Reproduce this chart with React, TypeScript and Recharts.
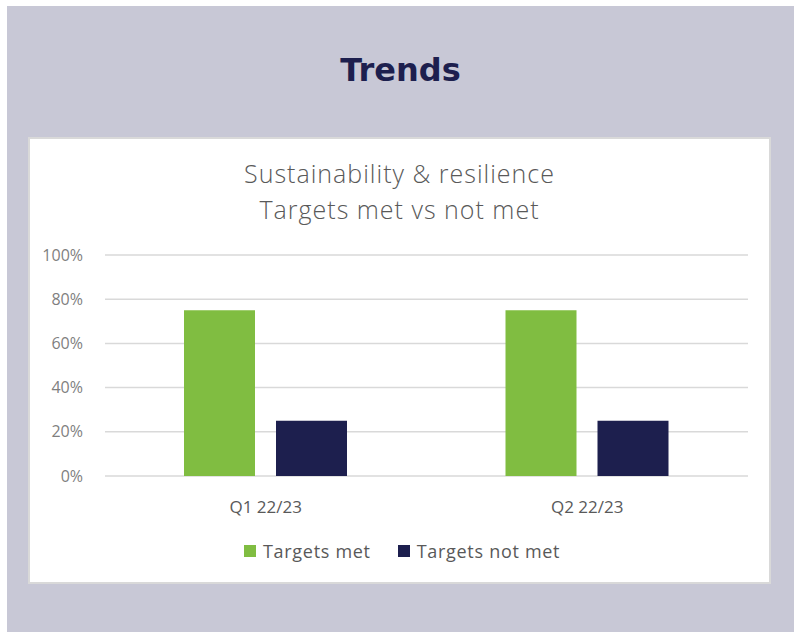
import React from 'react';
import { BarChart, Bar, XAxis, YAxis, CartesianGrid } from 'recharts';

// chart values
const categories = ['Q1 22/23', 'Q2 22/23'];
const targetsMet = [75, 75];
const targetsNotMet = [25, 25];
const yTicks = [0, 20, 40, 60, 80, 100];

const seriesNames = ['Targets met', 'Targets not met'];
const seriesColors = ['#80bd41', '#1d1f4e'];

const data = categories.map((name, i) => ({
  name,
  met: targetsMet[i],
  notMet: targetsNotMet[i],
}));

const FONT = '"Open Sans", sans-serif';

function LegendBox() {
  return (
    <div
      style={{
        position: 'absolute', left: 244, top: 539, display: 'flex', alignItems: 'center',
        fontFamily: FONT, height: 24,
      }}
    >
      {seriesNames.map((n, i) => (
        <div key={n} style={{ display: 'flex', alignItems: 'center', marginRight: i === 0 ? 27 : 0 }}>
          <span style={{ width: 12, height: 12, background: seriesColors[i], display: 'inline-block', marginRight: 7 }} />
          <span style={{ fontSize: 18, letterSpacing: 0.7, color: '#595959' }}>{n}</span>
        </div>
      ))}
    </div>
  );
}

export default function App() {
  return (
    <div style={{ position: 'absolute', left: 0, top: 0, width: 798, height: 637, background: '#fff' }}>
      <div style={{ position: 'absolute', left: 7, top: 6, width: 787, height: 626, background: '#c8c8d6' }} />
      <div
        style={{
          position: 'absolute', left: 7, top: 48, width: 787, textAlign: 'center',
          fontFamily: '"DejaVu Sans", sans-serif', fontWeight: 700, fontSize: 32, color: '#1d1f4e', lineHeight: '44px',
        }}
      >
        Trends
      </div>
      <div
        style={{
          position: 'absolute', left: 28, top: 137, width: 743, height: 447, boxSizing: 'border-box',
          background: '#fff', border: '2px solid #d9d9d9',
        }}
      />
      <div
        style={{
          position: 'absolute', left: 28, top: 155, width: 743, textAlign: 'center',
          fontFamily: FONT, fontWeight: 300, fontSize: 25, letterSpacing: 1, color: '#595959', lineHeight: '36px',
        }}
      >
        <div>Sustainability &amp; resilience</div>
        <div>Targets met vs not met</div>
      </div>
      <div style={{ position: 'absolute', left: 0, top: 0 }}>
        <BarChart
          width={798}
          height={637}
          data={data}
          margin={{ top: 255, right: 50, left: 45, bottom: 111 }}
          barSize={71}
          barGap={21}
        >
          <CartesianGrid vertical={false} stroke="#d9d9d9" strokeWidth={1.5} />
          <XAxis
            dataKey="name"
            axisLine={false}
            tickLine={false}
            tickSize={0}
            tickMargin={25}
            height={50}
            tick={{ fill: '#595959', fontSize: 17, fontFamily: FONT }}
          />
          <YAxis
            width={60}
            domain={[0, 100]}
            ticks={yTicks}
            tickFormatter={(v) => `${v}%`}
            axisLine={false}
            tickLine={false}
            tickSize={0}
            tickMargin={22}
            tick={{ fill: '#7f7f7f', fontSize: 16, fontFamily: FONT }}
          />
          <Bar dataKey="met" name={seriesNames[0]} fill={seriesColors[0]} isAnimationActive={false} />
          <Bar dataKey="notMet" name={seriesNames[1]} fill={seriesColors[1]} isAnimationActive={false} />
        </BarChart>
      </div>
      <LegendBox />
    </div>
  );
}
